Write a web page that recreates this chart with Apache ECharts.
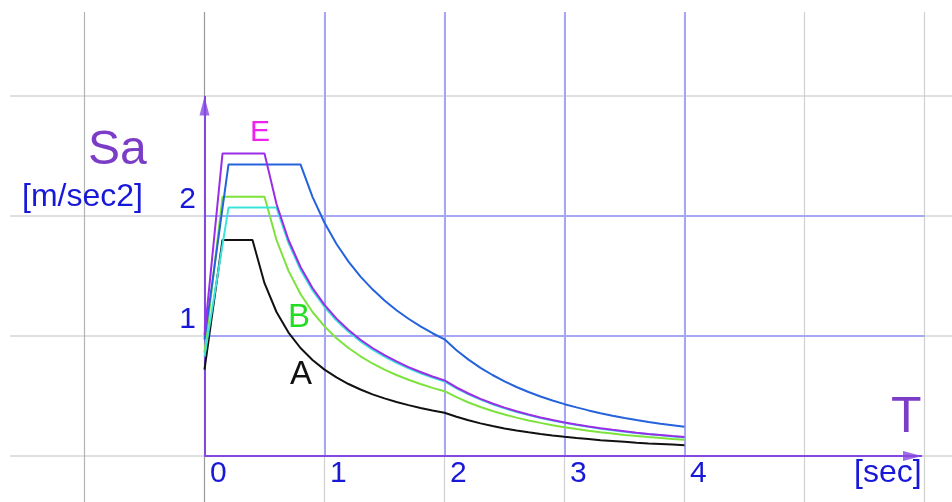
<!DOCTYPE html>
<html>
<head>
<meta charset="utf-8">
<style>
  html, body { margin: 0; padding: 0; background: #ffffff; }
  #chart { width: 952px; height: 502px; }
</style>
<script src="https://cdn.jsdelivr.net/npm/echarts@6/dist/echarts.min.js"></script>
</head>
<body>
<div id="chart"></div>
<script>
// Elastic response spectra Sa(T) for ground types A–E

// Periods T [sec] and spectral accelerations Sa [m/sec2] for each ground type
const periodsA = [0, 0.15, 0.4, 0.5, 0.6, 0.7, 0.8, 0.9, 1.0, 1.1, 1.2, 1.3, 1.4, 1.5, 1.6, 1.7, 1.8, 1.9, 2.0,
                  2.1, 2.2, 2.3, 2.4, 2.5, 2.6, 2.7, 2.8, 2.9, 3.0, 3.1, 3.2, 3.3, 3.4, 3.5, 3.6, 3.7, 3.8, 3.9, 4.0];
const saA      = [0.72, 1.8, 1.8, 1.44, 1.2, 1.029, 0.9, 0.8, 0.72, 0.655, 0.6, 0.554, 0.514, 0.48, 0.45, 0.424, 0.4, 0.379, 0.36,
                  0.327, 0.298, 0.272, 0.25, 0.23, 0.213, 0.198, 0.184, 0.171, 0.16, 0.15, 0.141, 0.132, 0.125, 0.118, 0.111, 0.105, 0.1, 0.095, 0.09];

const periodsB = [0, 0.15, 0.5, 0.6, 0.7, 0.8, 0.9, 1.0, 1.1, 1.2, 1.3, 1.4, 1.5, 1.6, 1.7, 1.8, 1.9, 2.0,
                  2.1, 2.2, 2.3, 2.4, 2.5, 2.6, 2.7, 2.8, 2.9, 3.0, 3.1, 3.2, 3.3, 3.4, 3.5, 3.6, 3.7, 3.8, 3.9, 4.0];
const saB      = [0.864, 2.16, 2.16, 1.8, 1.543, 1.35, 1.2, 1.08, 0.982, 0.9, 0.831, 0.771, 0.72, 0.675, 0.635, 0.6, 0.568, 0.54,
                  0.49, 0.446, 0.408, 0.375, 0.346, 0.32, 0.296, 0.276, 0.257, 0.24, 0.225, 0.211, 0.198, 0.187, 0.176, 0.167, 0.158, 0.15, 0.142, 0.135];

const periodsC = [0, 0.2, 0.6, 0.7, 0.8, 0.9, 1.0, 1.1, 1.2, 1.3, 1.4, 1.5, 1.6, 1.7, 1.8, 1.9, 2.0,
                  2.1, 2.2, 2.3, 2.4, 2.5, 2.6, 2.7, 2.8, 2.9, 3.0, 3.1, 3.2, 3.3, 3.4, 3.5, 3.6, 3.7, 3.8, 3.9, 4.0];
const saC      = [0.828, 2.07, 2.07, 1.774, 1.553, 1.38, 1.242, 1.129, 1.035, 0.955, 0.887, 0.828, 0.776, 0.731, 0.69, 0.654, 0.621,
                  0.563, 0.513, 0.47, 0.431, 0.397, 0.367, 0.341, 0.317, 0.295, 0.276, 0.258, 0.243, 0.228, 0.215, 0.203, 0.192, 0.181, 0.172, 0.163, 0.155];

const periodsD = [0, 0.2, 0.8, 0.9, 1.0, 1.1, 1.2, 1.3, 1.4, 1.5, 1.6, 1.7, 1.8, 1.9, 2.0,
                  2.1, 2.2, 2.3, 2.4, 2.5, 2.6, 2.7, 2.8, 2.9, 3.0, 3.1, 3.2, 3.3, 3.4, 3.5, 3.6, 3.7, 3.8, 3.9, 4.0];
const saD      = [0.972, 2.43, 2.43, 2.16, 1.944, 1.767, 1.62, 1.495, 1.389, 1.296, 1.215, 1.144, 1.08, 1.023, 0.972,
                  0.882, 0.803, 0.735, 0.675, 0.622, 0.575, 0.533, 0.496, 0.462, 0.432, 0.405, 0.38, 0.357, 0.336, 0.317, 0.3, 0.284, 0.269, 0.256, 0.243];

const periodsE = [0, 0.15, 0.5, 0.6, 0.7, 0.8, 0.9, 1.0, 1.1, 1.2, 1.3, 1.4, 1.5, 1.6, 1.7, 1.8, 1.9, 2.0,
                  2.1, 2.2, 2.3, 2.4, 2.5, 2.6, 2.7, 2.8, 2.9, 3.0, 3.1, 3.2, 3.3, 3.4, 3.5, 3.6, 3.7, 3.8, 3.9, 4.0];
const saE      = [1.008, 2.52, 2.52, 2.1, 1.8, 1.575, 1.4, 1.26, 1.145, 1.05, 0.969, 0.9, 0.84, 0.788, 0.741, 0.7, 0.663, 0.63,
                  0.571, 0.521, 0.476, 0.438, 0.403, 0.373, 0.346, 0.321, 0.3, 0.28, 0.262, 0.246, 0.231, 0.218, 0.206, 0.194, 0.184, 0.175, 0.166, 0.158];

// Tick labels and grid
const xTickLabels = [0, 1, 2, 3, 4];
const yTickLabels = [1, 2];
const xGridLines = [-1, 0, 1, 2, 3, 4, 5, 6];
const yGridLines = [0, 1, 2, 3];
const xBlueLines = [1, 2, 3, 4];
const yBlueLines = [1, 2];
const tAxisEnd = 6;
const saAxisEnd = 3;

// Visible window of the plane
const T_MIN = -1.6208, T_MAX = 6.2292;
const SA_MIN = -0.3833, SA_MAX = 3.7;

const FONT = '"Liberation Sans", Arial, Helvetica, sans-serif';
const TICK_BLUE = '#1818d8';
const AXIS_PURPLE = '#8447e0';

const chart = echarts.init(document.getElementById('chart'), null, { renderer: 'canvas' });

function zip(xs, ys) { return xs.map((x, i) => [x, ys[i]]); }

function segments(segs, color, width, z) {
  return {
    type: 'lines', coordinateSystem: 'cartesian2d', polyline: false, silent: true,
    animation: false, z: z,
    lineStyle: { color: color, width: width, opacity: 1, type: 'solid' },
    data: segs.map(s => ({ coords: s }))
  };
}

function curve(name, xs, ys, color) {
  return {
    name: name, type: 'line', data: zip(xs, ys), symbol: 'none', smooth: false,
    animation: false, silent: true, z: 10,
    lineStyle: { color: color, width: 2 }
  };
}

function tickLabels(points, pick, offset, align) {
  return {
    type: 'scatter', silent: true, animation: false, z: 20,
    symbolSize: 1, itemStyle: { color: 'rgba(0,0,0,0)' },
    data: points,
    label: {
      show: true, formatter: p => String(p.value[pick]),
      position: offset, align: align, verticalAlign: 'middle',
      fontSize: 30, fontFamily: FONT, color: TICK_BLUE,
      textBorderWidth: 0, textShadowBlur: 0, opacity: 1
    }
  };
}

const series = [
  // light grid
  segments(yGridLines.map(v => [[T_MIN, v], [T_MAX, v]]), '#d6d6d6', 1.5, 1),
  segments(xGridLines.filter(v => v !== -1 && v !== 0).map(v => [[v, SA_MIN], [v, SA_MAX]]), '#d0d0d0', 1.2, 1),
  segments([[[-1, SA_MIN], [-1, SA_MAX]]], '#b4b4b4', 1.2, 2),
  segments([[[0, SA_MIN], [0, SA_MAX]]], '#999999', 1.2, 2),
  // blue grid over the first quadrant
  segments(xBlueLines.map(v => [[v, 0], [v, SA_MAX]]), '#a6a6f4', 2, 3),
  segments(yBlueLines.map(v => [[0, v], [tAxisEnd, v]]), '#a6a6f4', 2, 3),
  // axes with arrowheads
  segments([[[0, 0], [0, saAxisEnd]], [[0, 0], [tAxisEnd - 0.02, 0]]], AXIS_PURPLE, 2, 4),
  {
    type: 'scatter', silent: true, animation: false, z: 5,
    symbol: 'triangle',
    itemStyle: { color: AXIS_PURPLE },
    data: [
      { value: [0, saAxisEnd], symbolSize: [10, 19], symbolOffset: [0, 10], symbolRotate: 0 },
      { value: [tAxisEnd, 0], symbolSize: [10, 19], symbolOffset: [-12, 0], symbolRotate: -90 }
    ]
  },
  // spectra
  curve('A', periodsA, saA, '#111111'),
  curve('B', periodsB, saB, '#7ee23c'),
  curve('C', periodsC, saC, '#3ae6dc'),
  curve('D', periodsD, saD, '#2463dc'),
  curve('E', periodsE, saE, '#9a2ee6'),
  // tick labels
  tickLabels(xTickLabels.map(t => [t, 0]), 0, [6, 18], 'left'),
  tickLabels(yTickLabels.map(v => [0, v]), 1, [-8, -16], 'right')
];

function txt(text, x, y, size, color) {
  return {
    type: 'text', x: x, y: y, z: 100, silent: true,
    style: {
      text: text, font: size + 'px ' + FONT, fill: color,
      align: 'left', verticalAlign: 'middle',
      textAlign: 'left', textVerticalAlign: 'middle'
    }
  };
}

chart.setOption({
  backgroundColor: '#ffffff',
  animation: false,
  grid: { left: 10, top: 12, right: 0, bottom: 0, containLabel: false },
  xAxis: {
    type: 'value', min: T_MIN, max: T_MAX,
    axisLine: { show: false }, axisTick: { show: false },
    axisLabel: { show: false }, splitLine: { show: false }
  },
  yAxis: {
    type: 'value', min: SA_MIN, max: SA_MAX,
    axisLine: { show: false }, axisTick: { show: false },
    axisLabel: { show: false }, splitLine: { show: false }
  },
  series: series,
  graphic: [
    txt('Sa', 88, 151, 48, '#7b3cc8'),
    txt('[m/sec2]', 22, 197, 32, TICK_BLUE),
    txt('T', 891, 418, 50, '#7b3cc8'),
    txt('[sec]', 854, 473, 32, TICK_BLUE),
    txt('E', 250, 133, 30, '#ee22ee'),
    txt('B', 288, 318, 33, '#22dd22'),
    txt('A', 290, 375, 33, '#111111')
  ]
});
</script>
</body>
</html>
